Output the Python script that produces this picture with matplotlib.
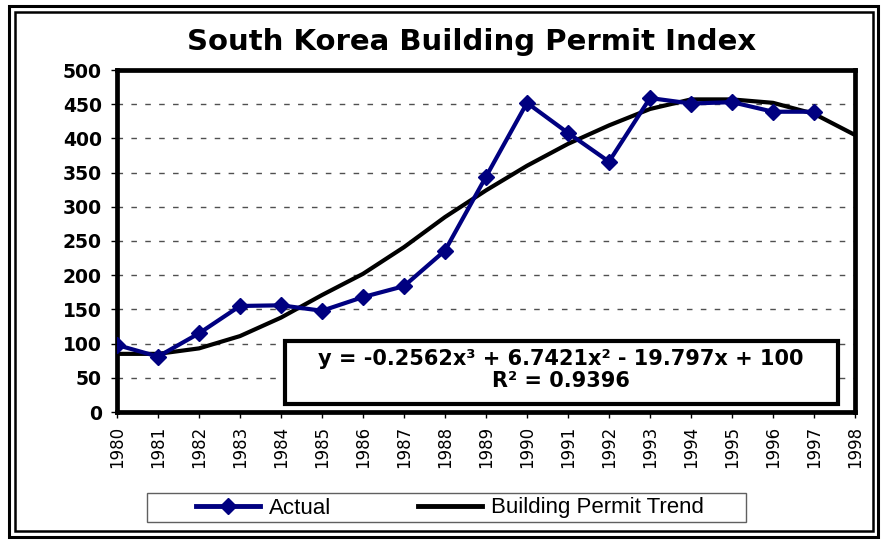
import matplotlib
matplotlib.use("Agg")
from matplotlib import pyplot as plt
from matplotlib.patches import Rectangle
from matplotlib.lines import Line2D

years = list(range(1980, 1999))
actual_years = list(range(1980, 1998))
actual = [98, 81, 115, 155, 156, 148, 168, 184, 236, 344, 452, 408, 366, 459, 451, 453, 439, 439]
trend = [85, 85, 93, 111, 138, 171, 202, 241, 285, 324, 360, 392, 419, 443, 457, 457, 452, 436, 405]
y_ticks = list(range(0, 501, 50))

title = "South Korea Building Permit Index"
equation = "y = -0.2562x³ + 6.7421x² - 19.797x + 100\nR² = 0.9396"

W, H = 881, 542
fig = plt.figure(figsize=(W / 100, H / 100), dpi=100)


def fx(px):
    return px / W


def fy(py):
    return 1 - py / H


# double page border
fig.add_artist(Rectangle((fx(8.5), fy(537)), fx(878 - 8.5), (537 - 6) / H,
                         fill=False, lw=2.2, ec="black", transform=fig.transFigure))
fig.add_artist(Rectangle((fx(14.5), fy(531)), fx(872.5 - 14.5), (531 - 11.5) / H,
                         fill=False, lw=1.8, ec="black", transform=fig.transFigure))

ax_l, ax_r, ax_t, ax_b = 117, 855, 70, 412
ax = fig.add_axes([fx(ax_l), fy(ax_b), fx(ax_r - ax_l), (ax_b - ax_t) / H])


def ax_x(px):
    return (px - ax_l) / (ax_r - ax_l)


def ax_y(py):
    return (ax_b - py) / (ax_b - ax_t)


ax.plot(years, trend, color="black", lw=3, zorder=3)
ax.plot(actual_years, actual, color="#000080", lw=3, marker="D", ms=8, zorder=4)

ax.set_xlim(1980, 1998)
ax.set_ylim(0, 500)
ax.set_yticks(y_ticks)
ax.set_xticks(years)
ax.set_xticklabels([str(y) for y in years], rotation=90, fontsize=12)
for lab in ax.get_yticklabels():
    lab.set_fontweight("bold")
    lab.set_fontsize(13.5)
ax.tick_params(axis="y", direction="out", length=4, width=1, pad=7)
ax.tick_params(axis="x", direction="out", length=4, width=1, pad=6)

for v in y_ticks[1:-1]:
    ax.axhline(v, color="#505050", lw=1, linestyle=(0, (4, 6)), zorder=1)

for s in ax.spines.values():
    s.set_linewidth(3.4)
    s.set_color("black")

# equation box
ax.add_patch(Rectangle((ax_x(285), ax_y(404)), ax_x(838) - ax_x(285), ax_y(341) - ax_y(404),
                       transform=ax.transAxes, fc="white", ec="black", lw=3, zorder=4.5))
ax.text(ax_x(561), ax_y(370), equation, transform=ax.transAxes, ha="center", va="center",
        fontsize=15, fontweight="bold", linespacing=1.15, zorder=5)

fig.text(fx(472), fy(42), title, ha="center", va="center",
         fontsize=21, fontweight="bold")

# legend
fig.add_artist(Rectangle((fx(147), fy(522)), fx(746 - 147), (522 - 493) / H,
                         fill=False, lw=1, ec="#606060", transform=fig.transFigure))
handles = [Line2D([], [], color="#000080", lw=3.5, marker="D", ms=8),
           Line2D([], [], color="black", lw=3.5)]
fig.legend(handles, ["Actual", "Building Permit Trend"], ncol=2, frameon=False,
           loc="center", bbox_to_anchor=(fx(450), fy(508)),
           prop={"family": "Liberation Sans", "size": 16},
           handlelength=2.9, handletextpad=0.4, columnspacing=3.9)

fig.savefig("out.png", dpi=100)
